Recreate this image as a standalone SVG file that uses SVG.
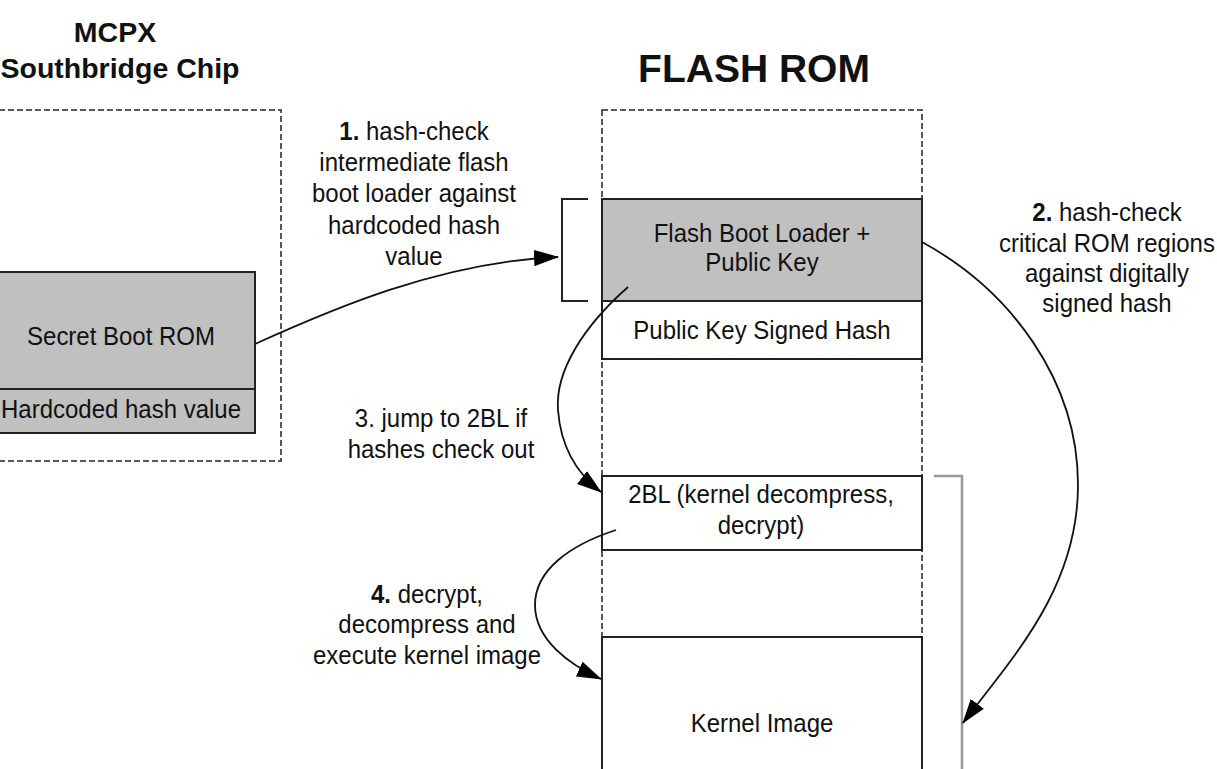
<svg xmlns="http://www.w3.org/2000/svg" width="1217" height="769" viewBox="0 0 1217 769">
<style>
.title{font-family:"Liberation Sans",Arial,sans-serif;font-weight:bold;fill:#111;text-anchor:middle}
.t{font-family:"Liberation Sans",Arial,sans-serif;font-size:26px;fill:#111;text-anchor:middle}
.b{font-weight:bold}
.dash{fill:none;stroke:#222;stroke-width:1.5;stroke-dasharray:6 3}
.box{stroke:#222;stroke-width:2}
.gray{fill:#c0c0c0}
.white{fill:#fff}
.conn{fill:none;stroke:#111;stroke-width:1.8}
.brk{fill:none;stroke:#222;stroke-width:2}
.gbrk{fill:none;stroke:#999;stroke-width:2.5}
</style>
<defs>
<marker id="ah" markerUnits="userSpaceOnUse" markerWidth="25" markerHeight="17" viewBox="0 0 23 15" refX="22" refY="7.5" orient="auto">
<path d="M0,0 L23,7.5 L0,15 z" fill="#000"/>
</marker>
</defs>
<rect width="1217" height="769" fill="#fff"/>

<g id="mcpx">
<text class="title" x="115" y="42" font-size="28.5">MCPX</text>
<text class="title" x="120" y="78" font-size="28.5">Southbridge Chip</text>
<rect class="dash" x="-10" y="110" width="291" height="351"/>
</g>

<g id="secret-boot-rom">
<rect class="box gray" x="-10" y="272" width="265" height="117"/>
<g transform="translate(121,0) scale(0.923,1)"><text class="t" x="0" y="345">Secret Boot ROM</text></g>
</g>
<g id="hardcoded-hash">
<rect class="box gray" x="-10" y="389" width="265" height="44"/>
<g transform="translate(121,0) scale(0.923,1)"><text class="t" x="0" y="418">Hardcoded hash value</text></g>
</g>

<g id="flash-rom">
<text class="title" x="754" y="82" font-size="39">FLASH ROM</text>
<rect class="dash" x="602" y="110" width="320" height="700"/>
</g>

<g id="flash-boot-loader">
<rect class="box gray" x="602" y="199" width="320" height="102"/>
<g transform="translate(762,0) scale(0.923,1)">
<text class="t" x="0" y="242">Flash Boot Loader +</text>
<text class="t" x="0" y="271">Public Key</text>
</g>
</g>
<g id="signed-hash">
<rect class="box white" x="602" y="301" width="320" height="58"/>
<g transform="translate(762,0) scale(0.923,1)"><text class="t" x="0" y="339">Public Key Signed Hash</text></g>
</g>
<g id="twobl">
<rect class="box white" x="602" y="476" width="320" height="74"/>
<g transform="translate(761,0) scale(0.923,1)">
<text class="t" x="0" y="503">2BL (kernel decompress,</text>
<text class="t" x="0" y="534">decrypt)</text>
</g>
</g>
<g id="kernel-image">
<rect class="box white" x="602" y="637" width="320" height="180"/>
<g transform="translate(762,0) scale(0.923,1)"><text class="t" x="0" y="732">Kernel Image</text></g>
</g>

<g id="bracket-left">
<path class="brk" d="M588,199 H562 V301 H588"/>
</g>
<g id="bracket-right">
<path class="gbrk" d="M934,476 H962 V780"/>
</g>

<g id="connectors">
<path class="conn" d="M255,344 C330,310 440,262 558,257" marker-end="url(#ah)"/>
<path class="conn" d="M922,242 C1010,290 1078,380 1078,485 C1078,590 1010,660 963,723" marker-end="url(#ah)"/>
<path class="conn" d="M628,287 C585,325 555,370 558,410 C561,450 580,476 601,492" marker-end="url(#ah)"/>
<path class="conn" d="M616,530 C570,545 535,570 535,605 C535,640 570,665 601,679" marker-end="url(#ah)"/>
</g>

<g id="label-1">
<g transform="translate(414,0) scale(0.923,1)">
<text class="t" x="0" y="140"><tspan class="b">1.</tspan> hash-check</text>
<text class="t" x="0" y="171">intermediate flash</text>
<text class="t" x="0" y="202">boot loader against</text>
<text class="t" x="0" y="234">hardcoded hash</text>
<text class="t" x="0" y="265">value</text>
</g>
</g>
<g id="label-2">
<g transform="translate(1107,0) scale(0.923,1)">
<text class="t" x="0" y="221"><tspan class="b">2.</tspan> hash-check</text>
<text class="t" x="0" y="252">critical ROM regions</text>
<text class="t" x="0" y="282">against digitally</text>
<text class="t" x="0" y="312">signed hash</text>
</g>
</g>
<g id="label-3">
<g transform="translate(441,0) scale(0.923,1)">
<text class="t" x="0" y="427">3. jump to 2BL if</text>
<text class="t" x="0" y="458">hashes check out</text>
</g>
</g>
<g id="label-4">
<g transform="translate(427,0) scale(0.923,1)">
<text class="t" x="0" y="603"><tspan class="b">4.</tspan> decrypt,</text>
<text class="t" x="0" y="633">decompress and</text>
<text class="t" x="0" y="664">execute kernel image</text>
</g>
</g>
</svg>
